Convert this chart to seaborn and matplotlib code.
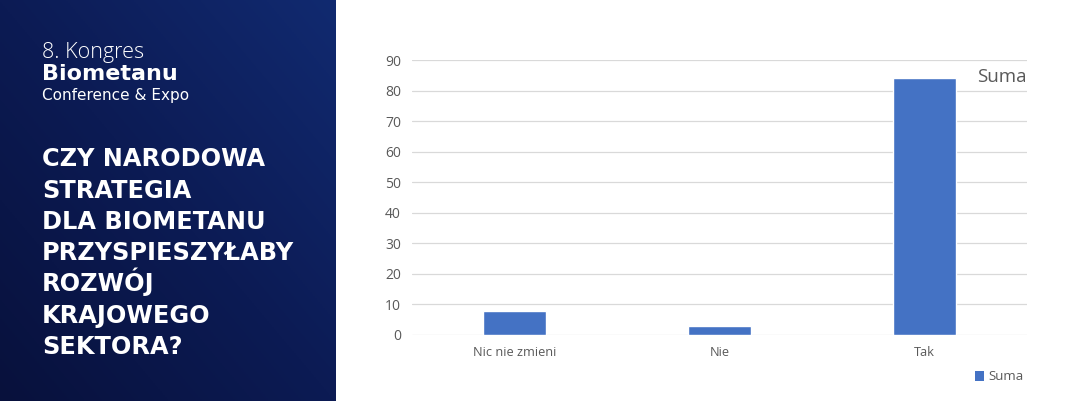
import numpy as np
import pandas as pd
import matplotlib
matplotlib.use("Agg")
import matplotlib.pyplot as plt
import seaborn as sns
from matplotlib.patches import Patch
from matplotlib.colors import LinearSegmentedColormap

categories = ["Nic nie zmieni", "Nie", "Tak"]
values = [8, 3, 84]
series_name = "Suma"
yticks = [0, 10, 20, 30, 40, 50, 60, 70, 80, 90]
header_lines = ["8. Kongres", "Biometanu", "Conference & Expo"]
question_lines = ["CZY NARODOWA", "STRATEGIA", "DLA BIOMETANU",
                  "PRZYSPIESZYŁABY", "ROZWÓJ", "KRAJOWEGO", "SEKTORA?"]

sns.set_theme(style="white")
plt.rcParams['font.family'] = ['Open Sans', 'DejaVu Sans']

W, H = 1068, 401
fig = plt.figure(figsize=(W / 100, H / 100), dpi=100)
fig.patch.set_facecolor("white")

# left panel background
bg = fig.add_axes([0, 0, 336 / W, 1])
gx, gy = np.meshgrid(np.linspace(0, 1, 200), np.linspace(0, 1, 200))
grad = np.clip(0.5 * gx + 0.5 * (1 - gy), 0, 1)
cmap = LinearSegmentedColormap.from_list("navy", ["#08113c", "#0c1b54", "#112a70"])
bg.imshow(grad, cmap=cmap, aspect="auto", extent=[0, 1, 0, 1], origin="upper")
bg.set_axis_off()

# header text
fig.text(42 / W, 1 - 58 / H, header_lines[0], color="white", fontsize=15.5,
         fontweight="light", va="baseline", ha="left", family=["Open Sans", "DejaVu Sans"])
fig.text(42 / W, 1 - 80.5 / H, header_lines[1], color="white", fontsize=16,
         fontweight="bold", va="baseline", ha="left", family=["DejaVu Sans"])
fig.text(42 / W, 1 - 100 / H, header_lines[2], color="white", fontsize=11,
         va="baseline", ha="left", family=["DejaVu Sans"])
for i, line in enumerate(question_lines):
    fig.text(42 / W, 1 - (166.5 + i * 31.2) / H, line, color="white", fontsize=17.3,
             fontweight="bold", va="baseline", ha="left", family=["DejaVu Sans"])

# chart
ax = fig.add_axes([412 / W, 1 - 335 / H, (1027 - 412) / W, (335 - 60) / H])
df = pd.DataFrame({"cat": categories, "val": values})
sns.barplot(data=df, x="cat", y="val", color="#4472C4", width=0.31, ax=ax,
            saturation=1)
ax.set_ylim(0, 90)
ax.set_yticks(yticks)
ax.set_xlim(-0.5, 2.5)
ax.yaxis.grid(True, color="#d9d9d9", lw=0.9)
ax.set_axisbelow(True)
for s in ax.spines.values():
    s.set_visible(False)
ax.set_xlabel("")
ax.set_ylabel("")
ax.tick_params(axis="both", length=0, colors="#595959")
ax.tick_params(axis="y", pad=8, labelsize=10)
ax.tick_params(axis="x", pad=8, labelsize=9.2)
for t in ax.get_xticklabels() + ax.get_yticklabels():
    t.set_color("#595959")

ax.text(1.0, 1 - (77 - 60) / (335 - 60), series_name, transform=ax.transAxes,
        ha="right", va="center", fontsize=13.5, color="#595959")

handles = [Patch(facecolor="#4472C4", edgecolor="none", label=series_name)]
fig.legend(handles=handles, loc="center right", bbox_to_anchor=(1030 / W, 1 - 377 / H),
           frameon=False, fontsize=9.5, labelcolor="#595959", handlelength=0.7,
           handleheight=0.7, handletextpad=0.3, borderpad=0)

fig.savefig("out.png", dpi=100, facecolor="white")
